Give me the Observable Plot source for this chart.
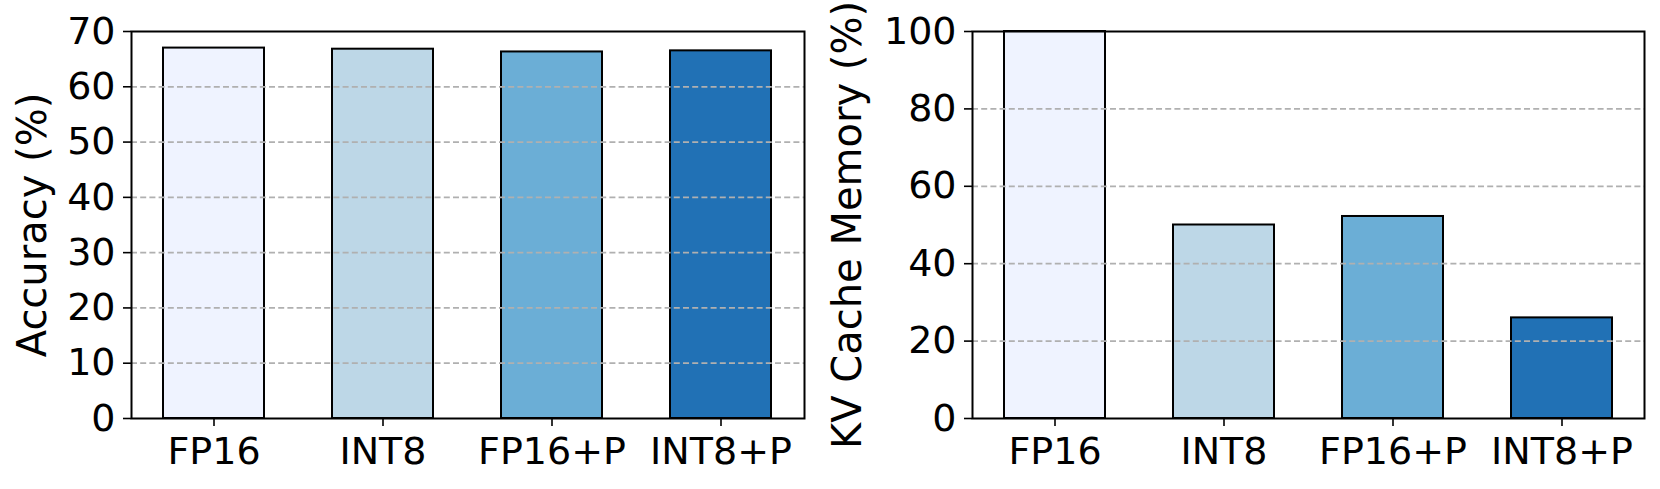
<!DOCTYPE html>
<html>
<head>
<meta charset="utf-8">
<script src="https://cdn.jsdelivr.net/npm/d3@7"></script>
<script src="https://cdn.jsdelivr.net/npm/@observablehq/plot@0.6"></script>
<style>
  html, body { margin: 0; padding: 0; background: #fff; }
  #wrap { position: relative; width: 1660px; height: 489px; overflow: hidden; background: #fff; }
  #left, #right { position: absolute; top: 0; }
  #left { left: 0; }
  #right { left: 830px; }
</style>
</head>
<body>
<div id="wrap"><div id="left"></div><div id="right"></div></div>
<script>
const methods = ["FP16", "INT8", "FP16+P", "INT8+P"];
const accuracy = [67.0, 66.8, 66.3, 66.5];
const kvMemory = [100, 50, 52.2, 26];
const accTicks = [0, 10, 20, 30, 40, 50, 60, 70];
const memTicks = [0, 20, 40, 60, 80, 100];
const accLabel = "Accuracy (%)";
const memLabel = "KV Cache Memory (%)";

const rows = methods.map((m, i) => ({method: m, acc: accuracy[i], mem: kvMemory[i]}));

function panel({field, ticks, domain, label, marginLeft, marginRight, labelDx}) {
  return Plot.plot({
    width: 830,
    height: 489,
    marginTop: 31,
    marginBottom: 71,
    marginLeft,
    marginRight,
    style: {fontFamily: "'DejaVu Sans', sans-serif", fontSize: "38px", color: "black", background: "white", overflow: "visible"},
    x: {domain: methods, paddingInner: 0.4, paddingOuter: 0.18, label: null},
    y: {domain, label: null},
    color: {domain: methods, range: ["#eff3ff", "#bdd7e7", "#6baed6", "#2171b5"]},
    marks: [
      Plot.barY(rows, {x: "method", y: field, fill: "method", stroke: "black", strokeWidth: 2}),
      Plot.gridY(ticks.filter(t => t !== domain[0] && t !== domain[1]), {stroke: "#b0b0b0", strokeOpacity: 1, strokeWidth: 1.8, strokeDasharray: "6,3.2"}),
      Plot.frame({stroke: "black", strokeWidth: 2}),
      Plot.axisY({ticks, tickSize: 8, tickPadding: 8, label: null, fontSize: 38, strokeWidth: 1.6}),
      Plot.axisX({tickSize: 8, tickPadding: 11, label: null, fontSize: 38, strokeWidth: 1.6}),
      Plot.text([label], {frameAnchor: "left", textAnchor: "middle", rotate: -90, dx: labelDx, lineAnchor: "top", fontSize: 40, fill: "black"})
    ]
  });
}

document.getElementById("left").appendChild(panel({
  field: "acc", ticks: accTicks, domain: [0, 70], label: accLabel,
  marginLeft: 131, marginRight: 26, labelDx: -114
}));
document.getElementById("right").appendChild(panel({
  field: "mem", ticks: memTicks, domain: [0, 100], label: memLabel,
  marginLeft: 142, marginRight: 16, labelDx: -140
}));
</script>
</body>
</html>
